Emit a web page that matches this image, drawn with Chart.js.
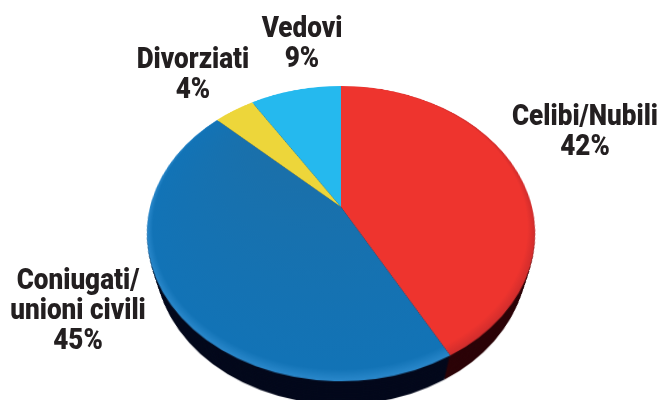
<!DOCTYPE html>
<html>
<head>
<meta charset="utf-8">
<script src="https://cdn.jsdelivr.net/npm/chart.js@4"></script>
<style>
  html, body { margin: 0; padding: 0; background: #fff; }
  #page { position: relative; width: 661px; height: 400px; overflow: hidden; }
  .pie { position: absolute; left: 141px; top: 7px; width: 400px; height: 400px; }
  .etichetta {
    position: absolute; text-align: center; white-space: nowrap;
    font: 900 30px/30px Roboto, sans-serif; color: #231f20;
    transform: translateX(-50%) scaleX(0.87);
  }
</style>
</head>
<body>
<div id="page"></div>
<script>
const categorie = ['Celibi/Nubili', 'Coniugati/\nunioni civili', 'Divorziati', 'Vedovi'];
const valori = [42, 45, 4, 9];

const coloriFaccia = ['#ee342e', '#1372b5', '#edd63a', '#25b9ee'];
const coloriLato = ['#2a0206', '#02071a', '#02071a', '#02071a'];

// posizione delle etichette: centro x, top
const posEtichette = [[585, 100], [78, 264], [193, 43], [302, 12]];

const inclinazione = 'perspective(704px) rotateX(41.6deg)';
const spessore = 42;
const page = document.getElementById('page');

function creaTorta(colori, z) {
  const canvas = document.createElement('canvas');
  canvas.className = 'pie';
  canvas.width = 400;
  canvas.height = 400;
  canvas.style.transform = inclinazione + ' translateZ(' + (-z) + 'px)';
  page.appendChild(canvas);
  return new Chart(canvas, {
    type: 'pie',
    data: {
      labels: categorie,
      datasets: [{ data: valori, backgroundColor: colori, borderWidth: 0 }]
    },
    options: {
      responsive: false,
      animation: false,
      layout: { padding: 9 },
      plugins: { legend: { display: false }, tooltip: { enabled: false } }
    }
  });
}

// il lato scuro: tante copie una sopra l'altra
for (let z = spessore; z > 0; z -= 3) {
  creaTorta(coloriLato, z);
}

// sfumatura sul bordo della faccia
function bordo(ctx, interno, esterno, rim) {
  const g = ctx.createRadialGradient(170, 30, 0, 200, 200, 191);
  g.addColorStop(0, interno);
  g.addColorStop(0.97, esterno);
  g.addColorStop(1, rim);
  return g;
}
const ctxFaccia = document.createElement('canvas').getContext('2d');
creaTorta([
  bordo(ctxFaccia, '#ee342e', '#ee342e', '#d02c2c'),
  bordo(ctxFaccia, '#1f6ea3', '#1273b6', '#2a88cb'),
  coloriFaccia[2],
  coloriFaccia[3]
], 0);

categorie.forEach((nome, i) => {
  const div = document.createElement('div');
  div.className = 'etichetta';
  div.style.left = posEtichette[i][0] + 'px';
  div.style.top = posEtichette[i][1] + 'px';
  div.innerText = nome + '\n' + valori[i] + '%';
  page.appendChild(div);
});
</script>
</body>
</html>
